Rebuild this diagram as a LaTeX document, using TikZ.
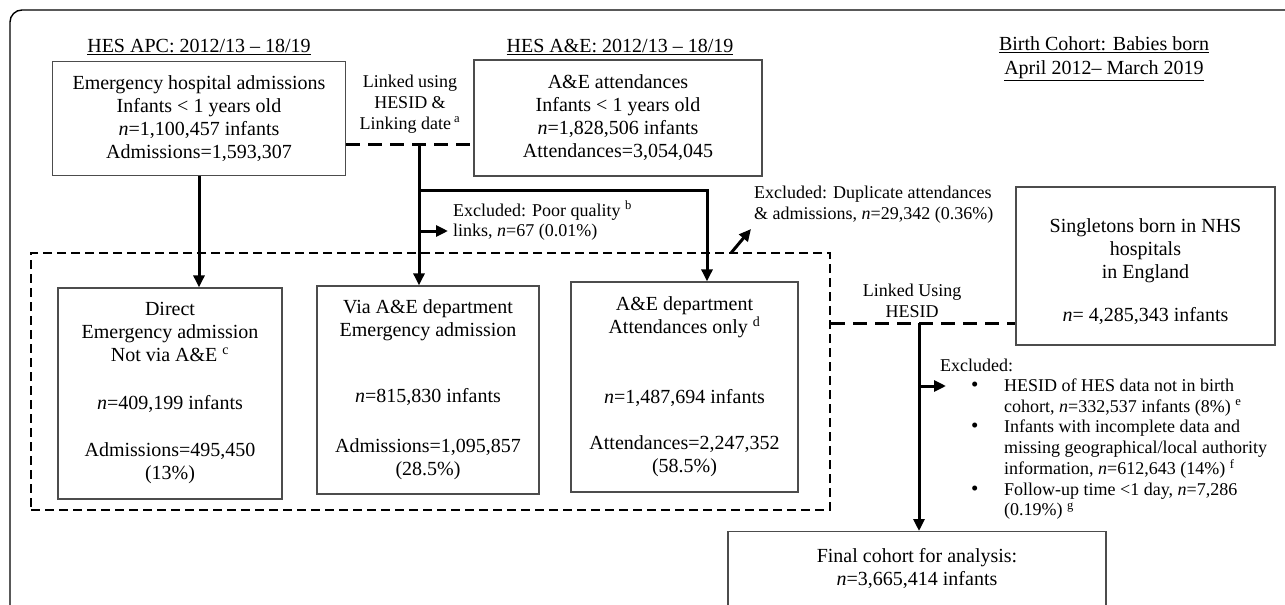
\documentclass[tikz,border=0pt]{standalone}
\usepackage{fontspec}
\setmainfont{Liberation Serif}
\usetikzlibrary{arrows.meta}
\newcommand{\blt}{\hspace{27pt}{\fontsize{21}{21}\selectfont •}}
\begin{document}
\begin{tikzpicture}[x=1pt,y=-1pt,
  box/.style={draw=black!70, line width=1.3pt, align=center, inner sep=0pt, font=\fontsize{20}{23}\selectfont},
  conn/.style={line width=3pt, -{Triangle[length=12pt,width=11pt]}},
  linkdash/.style={line width=3pt, dash pattern=on 14pt off 8pt},
  contdash/.style={line width=2.6pt, dash pattern=on 9pt off 5pt},
  note/.style={font=\fontsize{18}{20.7}\selectfont, inner sep=0pt},
  head/.style={font=\fontsize{20}{24}\selectfont, inner sep=0pt, align=center}]
\useasboundingbox (0,0) rectangle (1285,605);
\draw[line width=1.4pt, rounded corners=12pt] (10,10) rectangle (1320,650);

% headings
\node[head] (h1) at (199,47) {\underline{HES APC: 2012/13 – 18/19}};
\node[head] (h2) at (620,47) {\underline{HES A\&E: 2012/13 – 18/19}};
\node[head] (bc) at (1104,59) {\underline{Birth Cohort: Babies born}\\\underline{April 2012– March 2019}};

% top boxes
\node[box, minimum width=293pt, minimum height=114pt] (b1) at (199,118.5) {Emergency hospital admissions\\Infants < 1 years old\\\textit{n}=1,100,457 infants\\Admissions=1,593,307};
\node[box, minimum width=288pt, minimum height=116pt] (b2) at (618,118) {A\&E attendances\\Infants < 1 years old\\\textit{n}=1,828,506 infants\\Attendances=3,054,045};

\node[note, align=center] (lkt) at (410,104) {Linked using\\HESID \&\\Linking date\,\textsuperscript{a}};

% container and inner boxes
\node[draw, contdash, minimum width=799pt, minimum height=257pt, inner sep=0pt] (cont) at (430.5,381.5) {};
\node[box, minimum width=224pt, minimum height=211pt] (dir) at (170,393.5) {Direct\\Emergency admission\\Not via A\&E \textsuperscript{c}\\[25pt]\textit{n}=409,199 infants\\[24pt]Admissions=495,450\\(13\%)};
\node[box, minimum width=222pt, minimum height=208pt] (via) at (428,390) {Via A\&E department\\Emergency admission\\[43pt]\textit{n}=815,830 infants\\[27pt]Admissions=1,095,857\\(28.5\%)};
\node[box, minimum width=227pt, minimum height=210pt] (ae) at (684.5,387) {A\&E department\\Attendances only \textsuperscript{d}\\[47pt]\textit{n}=1,487,694 infants\\[23pt]Attendances=2,247,352\\(58.5\%)};

% link connectors
\coordinate (lk) at (419,144);
\draw[linkdash] (b1.east |- lk) -- (b2.west |- lk);
\draw[conn] (lk) -- (lk |- via.north);
\coordinate (br) at (419,190);
\coordinate (br2) at (707,190);
\draw[conn] (br) -- (br2) -- (br2 |- ae.north);
\draw[conn] (b1.south) -- (b1.south |- dir.north);

\node[note, anchor=west, align=left] (pqt) at (453,221) {Excluded: Poor quality \textsuperscript{b}\\links, \textit{n}=67 (0.01\%)};
\coordinate (pq) at (419,231);
\draw[conn, shorten >=5pt] (pq) -- (pqt.west |- pq);

\node[note, anchor=north west, align=left] (dup) at (754,186) {Excluded: Duplicate attendances\\\& admissions, \textit{n}=29,342 (0.36\%)};
\coordinate (d0) at (731,253);
\coordinate (d1) at (751,229);
\draw[conn] (d0) -- (d1);

% birth cohort
\node[box, minimum width=259pt, minimum height=158pt] (sing) at (1145.5,266) {\rule{0pt}{26pt}Singletons born in NHS\\hospitals\\in England\\[20pt]\textit{n}= 4,285,343 infants};
\node[note, align=center] (lut) at (912,301) {Linked Using\\HESID};
\coordinate (lu) at (919,323);
\draw[linkdash] (cont.east |- lu) -- (sing.west |- lu);

% final
\node[box, minimum width=378pt, anchor=north] (fin) at (917,531) {\rule{0pt}{31pt}Final cohort for analysis:\\\textit{n}=3,665,414 infants\\[40pt]\mbox{}};
\draw[conn] (lu) -- (lu |- fin.north);

\node[note, anchor=west] (ex) at (940,365) {Excluded:};
\coordinate (ea) at (919,386);
\coordinate (eb) at (946,386);
\draw[conn] (ea) -- (eb);
\node[note, anchor=north west, align=left, font=\fontsize{18}{20.6}\selectfont] (lst) at (944,377) {\begin{tabular}{@{}p{60pt}@{}l@{}}
\blt & HESID of HES data not in birth\\
 & cohort, \textit{n}=332,537 infants (8\%) \textsuperscript{e}\\
\blt & Infants with incomplete data and\\
 & missing geographical/local authority\\
 & information, \textit{n}=612,643 (14\%) \textsuperscript{f}\\
\blt & Follow-up time <1 day, \textit{n}=7,286\\
 & (0.19\%) \textsuperscript{g}
\end{tabular}};
\end{tikzpicture}
\end{document}
